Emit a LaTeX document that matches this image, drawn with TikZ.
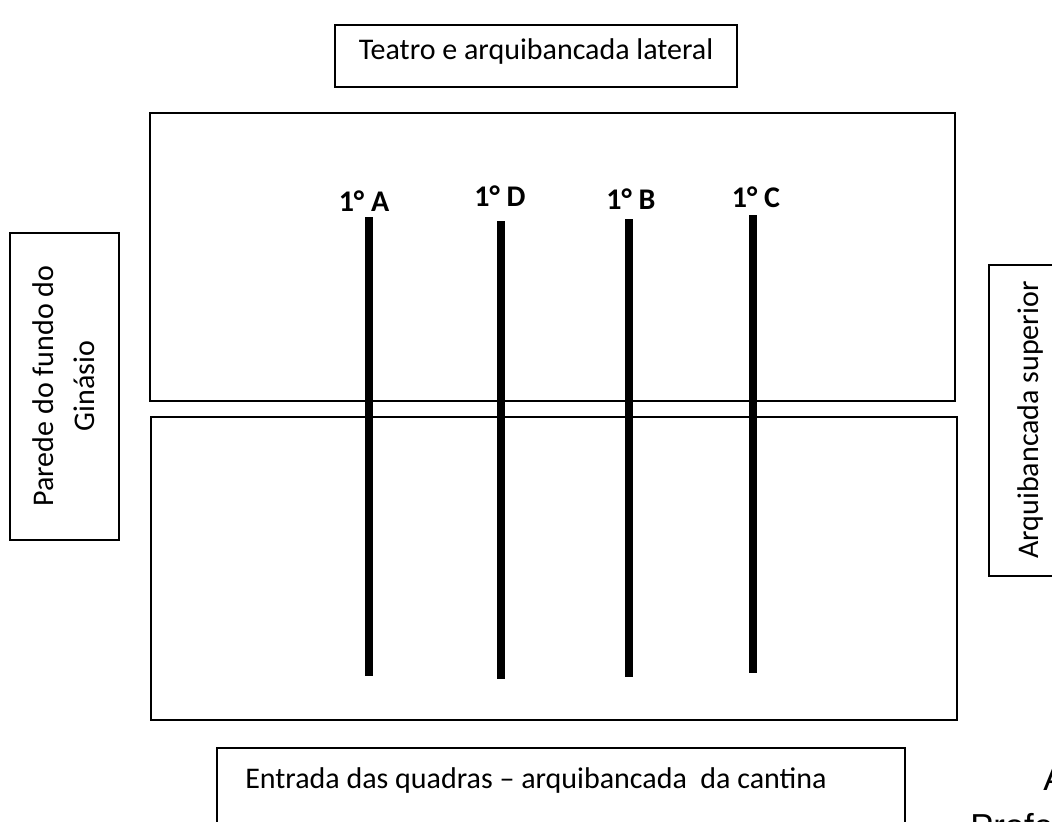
\documentclass[tikz,border=0pt]{standalone}
\usepackage{fontspec}
\setmainfont{Carlito}
\newfontfamily\arialfont{Liberation Sans}
\usepackage{tikz}

\begin{document}
\begin{tikzpicture}
[x=0.75pt,y=-0.75pt,
quadra/.style={draw=black,line width=0.9pt},
caixa/.style={draw=black,line width=0.9pt},
rotulo/.style={font=\fontsize{22.5}{31}\selectfont,inner sep=0pt},
turma/.style={font=\fontsize{22.5}{26}\selectfont\bfseries,inner sep=0pt},
fila/.style={line width=6pt,draw=black}]

\useasboundingbox (0,0) rectangle (1052,821);
\clip (0,0) rectangle (1052,821);

% caixas de referencia
\draw [caixa] (335,25) rectangle (737,87);
\node at (536,52) [rotulo] (teatro) {Teatro e arquibancada lateral};

\draw [caixa] (10,233) rectangle (119,540);
\node at (64,386) [rotulo,rotate=90,align=center] (parede) {Parede do fundo do\\Ginásio};

\draw [caixa] (989,265) rectangle (1070,576);
\node at (1030,420) [rotulo,rotate=90] (arquib) {Arquibancada superior};

\draw [caixa] (217,748) rectangle (905,840);
\node at (245,780) [rotulo,anchor=west] (entrada) {Entrada das quadras -- arquibancada\ \ da cantina};

% quadras
\draw [quadra] (150,113) rectangle (955,401);
\draw [quadra] (151,417) rectangle (957,720);

% filas das turmas
\node at (364,201) [turma] (ta) {1° A};
\node at (500,196) [turma] (td) {1° D};
\node at (631,199) [turma] (tb) {1° B};
\node at (756,197) [turma] (tc) {1° C};

\draw [fila] (369,217) -- (369,676);
\draw [fila] (501,221) -- (501,679);
\draw [fila] (629,219) -- (629,677);
\draw [fila] (753,215) -- (753,673);

% texto cortado
\node at (1043,790) [anchor=base west,inner sep=0pt,font=\arialfont\fontsize{26}{30}\selectfont] (letra) {A};
\node at (970,838) [anchor=base west,inner sep=0pt,font=\arialfont\fontsize{26}{30}\selectfont] (prof) {Profe};
\end{tikzpicture}
\end{document}
